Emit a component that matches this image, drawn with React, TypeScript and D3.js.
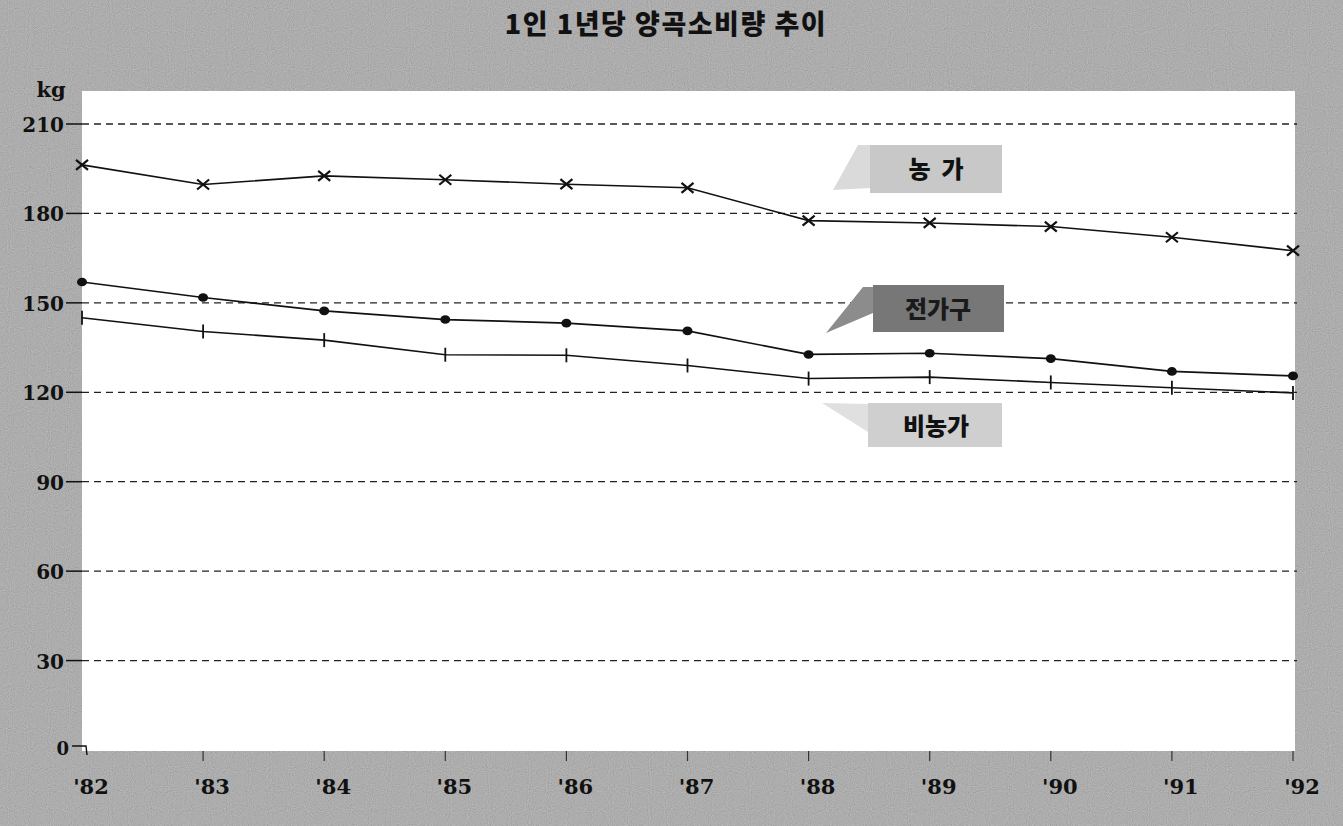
import React from "react";
import * as d3 from "d3";

const years = ["'82", "'83", "'84", "'85", "'86", "'87", "'88", "'89", "'90", "'91", "'92"];
const farm = [196.3, 189.7, 192.6, 191.3, 189.8, 188.6, 177.6, 176.8, 175.6, 172, 167.5];
const allHouse = [157, 151.8, 147.3, 144.4, 143.2, 140.6, 132.7, 133.1, 131.3, 127, 125.5];
const nonFarm = [145, 140.4, 137.5, 132.6, 132.4, 129, 124.6, 125.1, 123.3, 121.5, 119.8];
const yTicks = [0, 30, 60, 90, 120, 150, 180, 210];
const title = "1인 1년당 양곡소비량 추이";
const labels = { farm: "농  가", all: "전가구", non: "비농가" };

const W = 1343, H = 826;
const serif = "'DejaVu Serif', 'Liberation Serif', serif";
const kr = "'Noto Sans CJK KR', sans-serif";

export default function App() {
  const x = d3.scalePoint<string>().domain(years).range([82, 1293]);
  const y = d3.scaleLinear().domain([0, 210]).range([750, 124]);
  const line = d3.line<number>().x((_, i) => x(years[i])!).y((d) => y(d));

  return (
    <div style={{ position: "absolute", left: 0, top: 0 }}>
      <svg width={W} height={H} style={{ display: "block" }}>
        <defs>
          <filter id="grain" x="0" y="0" width="100%" height="100%">
            <feTurbulence type="fractalNoise" baseFrequency="0.95" numOctaves="1" seed="3" result="t" />
            <feColorMatrix in="t" type="matrix"
              values="0.33 0.33 0.33 0 0  0.33 0.33 0.33 0 0  0.33 0.33 0.33 0 0  0 0 0 0 0.4" result="g" />
            <feComposite in="g" in2="SourceGraphic" operator="over" />
          </filter>
        </defs>
        <rect x={0} y={0} width={W} height={H} fill="#a2a2a2" />
        <rect x={0} y={0} width={W} height={H} fill="#a2a2a2" filter="url(#grain)" />
        {/* plot area */}
        <rect x={82} y={91} width={1213} height={660} fill="#ffffff" />

        {/* title */}
        <text x={666} y={34} textAnchor="middle" fontFamily={kr} fontWeight={900} fontSize={27}
          letterSpacing={1.5} fill="#111">{title}</text>

        {/* unit */}
        <text x={51} y={97} textAnchor="middle" fontFamily={serif} fontWeight="bold" fontSize={21} fill="#111">kg</text>

        {/* y grid + labels */}
        {yTicks.map((t) => (
          <g key={t}>
            {t > 0 && (
              <>
                <line x1={66} x2={82} y1={y(t)} y2={y(t)} stroke="#111" strokeWidth={1.5} />
                <line x1={82} x2={1297} y1={y(t)} y2={y(t)} stroke="#222" strokeWidth={1.3} strokeDasharray="7 5" />
              </>
            )}
            <text x={t === 0 ? 69 : 64} y={y(t) + (t === 0 ? 5 : 8)} textAnchor="end" fontFamily={serif}
              fontWeight="bold" fontSize={t === 0 ? 18 : 20} fill="#111">{t}</text>
          </g>
        ))}
        <path d="M72,746 L86,746 L87,755" fill="none" stroke="#111" strokeWidth={1.4} />

        {/* x ticks + labels */}
        {years.map((yr) => (
          <g key={yr}>
            {yr !== "'82" && (
              <line x1={x(yr)} x2={x(yr)} y1={751} y2={761} stroke="#333" strokeWidth={1.2} />
            )}
            <text x={x(yr)! + 9} y={794} textAnchor="middle" fontFamily={serif} fontWeight="bold"
              fontSize={21} fill="#111">{yr}</text>
          </g>
        ))}

        {/* lines */}
        <path d={line(farm)!} fill="none" stroke="#111" strokeWidth={1.6} />
        <path d={line(allHouse)!} fill="none" stroke="#111" strokeWidth={1.7} />
        <path d={line(nonFarm)!} fill="none" stroke="#111" strokeWidth={1.6} />

        {farm.map((v, i) => (
          <path key={"f" + i} transform={`translate(${x(years[i])},${y(v)})`}
            d="M-6,-5L6,5M-6,5L6,-5" stroke="#111" strokeWidth={2.2} />
        ))}
        {allHouse.map((v, i) => (
          <ellipse key={"a" + i} cx={x(years[i])} cy={y(v)} rx={5} ry={4.3} fill="#111" />
        ))}
        {nonFarm.map((v, i) => (
          <line key={"n" + i} x1={x(years[i])} x2={x(years[i])} y1={y(v) - 7} y2={y(v) + 7}
            stroke="#111" strokeWidth={1.8} />
        ))}

        {/* callouts */}
        <polygon points="858,145 870,145 870,188 833,190" fill="#dadada" />
        <rect x={870} y={145} width={132} height={48} fill="#c8c8c8" />
        <text x={936} y={178} textAnchor="middle" fontFamily={kr} fontWeight={900} fontSize={24}
          fill="#111" style={{ whiteSpace: "pre" }}>{labels.farm}</text>

        <polygon points="873,287 863,287 826,333 873,313" fill="#8c8c8c" />
        <rect x={873} y={285} width={131} height={47} fill="#777777" />
        <text x={938} y={318} textAnchor="middle" fontFamily={kr} fontWeight={900} fontSize={24}
          fill="#1a1a1a">{labels.all}</text>

        <polygon points="868,404 822,403 868,432" fill="#e0e0e0" />
        <rect x={868} y={403} width={134} height={44} fill="#cfcfcf" />
        <text x={936} y={435} textAnchor="middle" fontFamily={kr} fontWeight={900} fontSize={24}
          fill="#111">{labels.non}</text>
      </svg>
    </div>
  );
}
